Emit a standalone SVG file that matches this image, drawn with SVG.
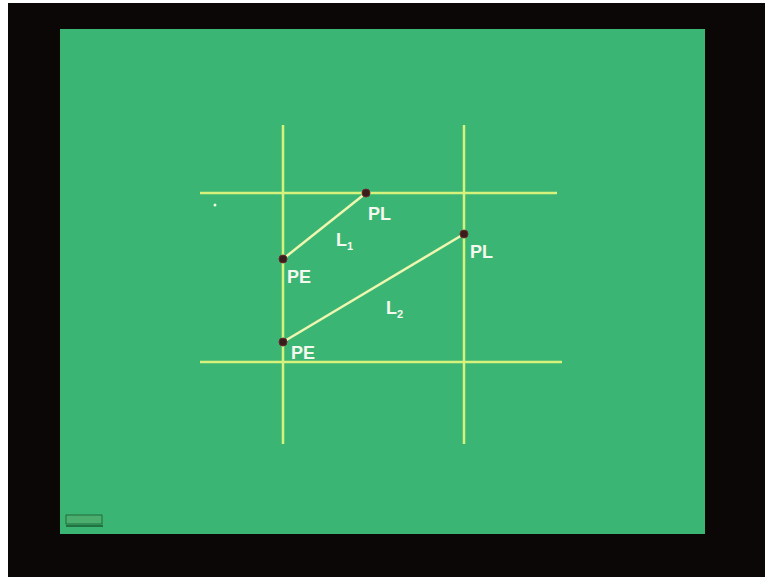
<svg xmlns="http://www.w3.org/2000/svg" width="765" height="577" viewBox="0 0 765 577">
<style>
.grid{stroke:#d6f27c;stroke-width:2.5;fill:none}
.diag{stroke:#eef6b0;stroke-width:2.5;fill:none}
.pt{fill:#3a1c1c;stroke:#6a2a2a;stroke-width:1}
.lbl{font-family:"Liberation Sans",Arial,sans-serif;font-weight:bold;fill:#f4f8ee;font-size:18px}
.sub{font-size:11px}
</style>
<rect width="765" height="577" fill="#0a0706"/>
<rect x="0" y="0" width="765" height="3" fill="#ffffff"/>
<rect x="0" y="0" width="8" height="577" fill="#ffffff"/>
<rect x="60" y="29" width="645" height="505" fill="#3bb573"/>
<g id="grid">
<line class="grid" x1="283" y1="125" x2="283" y2="444"/>
<line class="grid" x1="464" y1="125" x2="464" y2="444"/>
<line class="grid" x1="200" y1="193" x2="557" y2="193"/>
<line class="grid" x1="200" y1="362" x2="562" y2="362"/>
</g>
<g id="connectors">
<line class="diag" x1="283" y1="259" x2="366" y2="193"/>
<line class="diag" x1="283" y1="342" x2="464" y2="234"/>
</g>
<g id="PL1"><circle class="pt" cx="366" cy="193" r="4"/><text class="lbl" x="368" y="220">PL</text></g>
<g id="PE1"><circle class="pt" cx="283" cy="259" r="4"/><text class="lbl" x="287" y="283">PE</text></g>
<g id="PL2"><circle class="pt" cx="464" cy="234" r="4"/><text class="lbl" x="470" y="258">PL</text></g>
<g id="PE2"><circle class="pt" cx="283" cy="342" r="4"/><text class="lbl" x="291" y="359">PE</text></g>
<g id="L1"><text class="lbl" x="336" y="246">L<tspan class="sub" dy="4">1</tspan></text></g>
<g id="L2"><text class="lbl" x="386" y="314">L<tspan class="sub" dy="4">2</tspan></text></g>
<circle cx="215" cy="205" r="1.5" fill="#e8f8e0"/>
<g id="logo">
<rect x="66" y="515" width="36" height="9" fill="#4cae6e" stroke="#1e6b3a" stroke-width="1"/>
<line x1="66" y1="526" x2="103" y2="526" stroke="#1b5b30" stroke-width="1.5"/>
</g>
</svg>
